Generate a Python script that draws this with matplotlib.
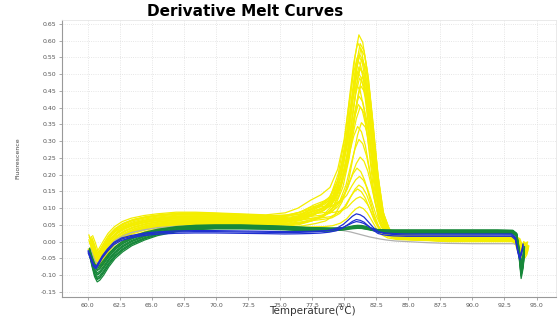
import matplotlib
matplotlib.use("Agg")
import matplotlib.pyplot as plt
import numpy as np

# temperature points (deg C) shared by every melt curve
temps = [60.2, 60.4, 60.6, 60.8, 61.0, 61.3, 61.7, 62.2, 62.8, 63.5,
         64.5, 65.5, 67.0, 68.5, 70.0, 72.0, 74.0, 75.5, 76.5, 77.5,
         78.3, 79.0, 79.6, 80.1, 80.5, 80.8, 81.1, 81.4, 81.7, 82.0,
         82.4, 82.8, 83.3, 84.0, 85.0, 86.5, 88.0, 90.0, 92.0, 93.2,
         93.5, 93.7, 93.85, 94.0, 94.1]

# baseline envelopes (-dF/dT) for each group
yellow_hi = [0.020, 0.000, -0.025, -0.030, -0.020, 0.000, 0.025, 0.045, 0.060, 0.070,
             0.078, 0.083, 0.088, 0.088, 0.086, 0.083, 0.080, 0.080, 0.080, 0.082,
             0.080, 0.075, 0.070, 0.064, 0.058, 0.052, 0.046, 0.040, 0.035, 0.030,
             0.027, 0.024, 0.022, 0.020, 0.020, 0.018, 0.017, 0.017, 0.016, 0.016,
             0.010, -0.010, -0.020, -0.010, 0.000]
yellow_lo = [-0.030, -0.050, -0.070, -0.078, -0.070, -0.050, -0.030, -0.010, 0.005, 0.018,
             0.030, 0.038, 0.044, 0.046, 0.046, 0.045, 0.043, 0.042, 0.042, 0.042,
             0.040, 0.038, 0.035, 0.032, 0.030, 0.027, 0.024, 0.021, 0.018, 0.015,
             0.012, 0.010, 0.008, 0.006, 0.005, 0.003, 0.000, 0.000, 0.000, 0.000,
             -0.010, -0.035, -0.050, -0.040, -0.020]
green_hi = [-0.020, -0.045, -0.065, -0.075, -0.070, -0.055, -0.035, -0.015, 0.002, 0.015,
            0.028, 0.037, 0.045, 0.049, 0.050, 0.050, 0.048, 0.046, 0.044, 0.042,
            0.041, 0.040, 0.039, 0.038, 0.037, 0.037, 0.036, 0.036, 0.036, 0.035,
            0.035, 0.035, 0.035, 0.035, 0.035, 0.035, 0.035, 0.035, 0.035, 0.034,
            0.025, -0.020, -0.060, -0.040, -0.015]
green_lo = [-0.040, -0.075, -0.105, -0.120, -0.115, -0.100, -0.075, -0.050, -0.030, -0.012,
            0.005, 0.018, 0.030, 0.036, 0.038, 0.038, 0.037, 0.035, 0.033, 0.031,
            0.030, 0.029, 0.029, 0.028, 0.028, 0.027, 0.027, 0.027, 0.026, 0.026,
            0.026, 0.025, 0.025, 0.025, 0.025, 0.025, 0.025, 0.025, 0.025, 0.024,
            0.015, -0.050, -0.110, -0.080, -0.040]
blue_base = [-0.030, -0.050, -0.070, -0.077, -0.065, -0.045, -0.025, -0.005, 0.008, 0.015,
             0.022, 0.026, 0.029, 0.030, 0.030, 0.029, 0.028, 0.027, 0.027, 0.027,
             0.027, 0.027, 0.026, 0.026, 0.025, 0.025, 0.025, 0.024, 0.024, 0.023,
             0.023, 0.022, 0.022, 0.021, 0.020, 0.020, 0.020, 0.020, 0.020, 0.020,
             0.010, -0.030, -0.050, -0.030, -0.010]
gray_base = [-0.020, -0.040, -0.060, -0.065, -0.055, -0.035, -0.015, 0.005, 0.018, 0.028,
             0.036, 0.042, 0.046, 0.047, 0.047, 0.046, 0.044, 0.043, 0.042, 0.041,
             0.040, 0.038, 0.035, 0.032, 0.029, 0.026, 0.023, 0.020, 0.017, 0.014,
             0.011, 0.008, 0.005, 0.002, 0.000, -0.003, -0.005, -0.006, -0.006, -0.006,
             -0.010, -0.030, -0.040, -0.030, -0.015]

# normalised melt peak and the low shoulder seen before it
peak_shape = [0, 0, 0, 0, 0, 0, 0, 0, 0, 0,
              0, 0, 0, 0, 0, 0, 0, 0, 0.01, 0.03,
              0.06, 0.12, 0.25, 0.45, 0.70, 0.88, 1.00, 0.97, 0.85, 0.65,
              0.35, 0.14, 0.04, 0.005, 0, 0, 0, 0, 0, 0,
              0, 0, 0, 0, 0]
shoulder_shape = [0, 0, 0, 0, 0, 0, 0, 0, 0, 0,
                  0, 0, 0, 0, 0, 0, 0, 0.2, 0.5, 0.9,
                  1.0, 0.9, 0.7, 0.5, 0.3, 0.15, 0.05, 0, 0, 0,
                  0, 0, 0, 0, 0, 0, 0, 0, 0, 0,
                  0, 0, 0, 0, 0]

# per-sample values
yellow_peaks = [0.58, 0.56, 0.55, 0.54, 0.53, 0.52, 0.51, 0.50, 0.49, 0.48,
                0.47, 0.46, 0.45, 0.44, 0.42, 0.40, 0.38, 0.36, 0.33, 0.30,
                0.27, 0.22, 0.18, 0.15, 0.14, 0.12, 0.10, 0.08]
yellow_levels = [0.6, 0.3, 0.9, 0.5, 0.1, 0.7, 0.4, 1.0, 0.2, 0.8,
                 0.55, 0.35, 0.65, 0.15, 0.95, 0.45, 0.25, 0.75, 0.05, 0.85,
                 0.5, 0.3, 0.7, 0.9, 0.2, 0.6, 0.4, 0.0]
yellow_shifts = [0.05, 0.15, -0.05, 0.2, 0.0, 0.1, 0.25, -0.1, 0.15, 0.05,
                 -0.05, 0.3, 0.1, -0.15, 0.2, 0.05, 0.0, 0.15, 0.25, -0.05,
                 0.05, 0.15, -0.1, 0.1, 0.05, -0.05, 0.15, 0.1]
yellow_shoulders = [0.0, 0.01, 0.0, 0.02, 0.0, 0.0, 0.01, 0.03, 0.0, 0.0,
                    0.02, 0.0, 0.0, 0.04, 0.0, 0.01, 0.0, 0.03, 0.0, 0.02,
                    0.0, 0.035, 0.0, 0.02, 0.01, 0.0, 0.025, 0.0]
green_levels = [0.0, 0.15, 0.3, 0.45, 0.6, 0.75, 0.9, 1.0, 0.2, 0.5, 0.8]
green_peaks = [0.02, 0.015, 0.01, 0.012, 0.008, 0.015, 0.01, 0.005, 0.018, 0.01, 0.006]
blue_peaks = [0.058, 0.045, 0.032]
blue_offsets = [0.0, -0.004, 0.003]

fig = plt.figure(figsize=(5.58, 3.2), dpi=100)
ax = fig.add_axes([0.111, 0.072, 0.885, 0.866])

t = np.array(temps)
peak = np.array(peak_shape)
shoulder = np.array(shoulder_shape)

yhi, ylo = np.array(yellow_hi), np.array(yellow_lo)
for h, lv, sh, sd in zip(yellow_peaks, yellow_levels, yellow_shifts, yellow_shoulders):
    y = ylo + lv * (yhi - ylo) + h * peak + sd * shoulder
    ax.plot(t + sh, y, color="#f4ee00", lw=0.9)

ax.plot(t, gray_base, color="#b0b0b0", lw=0.9)

ghi, glo = np.array(green_hi), np.array(green_lo)
for lv, h in zip(green_levels, green_peaks):
    y = glo + lv * (ghi - glo) + h * peak
    ax.plot(t - 0.05, y, color="#17883a", lw=0.9)

for h, off in zip(blue_peaks, blue_offsets):
    y = np.array(blue_base) + off + h * peak
    ax.plot(t - 0.15, y, color="#1f2fd0", lw=0.9)

ax.set_xlim(58.0, 96.5)
ax.set_ylim(-0.165, 0.662)
ax.set_xticks(np.arange(60, 95.1, 2.5))
ax.set_yticks(np.arange(-0.15, 0.651, 0.05))
ax.xaxis.set_major_formatter(matplotlib.ticker.FormatStrFormatter("%.1f"))
ax.yaxis.set_major_formatter(matplotlib.ticker.FormatStrFormatter("%.2f"))
ax.tick_params(labelsize=4.5, labelcolor="#555555", length=2, width=0.5, color="#888888", pad=2)
ax.grid(color="#dedede", linestyle=":", linewidth=0.6)
ax.set_axisbelow(True)
for s in ["top", "right"]:
    ax.spines[s].set_color("#e6e6e6")
    ax.spines[s].set_linewidth(0.6)
for s in ["left", "bottom"]:
    ax.spines[s].set_color("#999999")
    ax.spines[s].set_linewidth(0.8)

fig.text(245 / 558, 1 - 12 / 320, "Derivative Melt Curves", ha="center", va="center",
         fontsize=11, fontweight="bold")
fig.text(312 / 558, 1 - 311 / 320, "Temperature(°C)", ha="center", va="center",
         fontsize=7.5, color="#333333")
fig.text(18 / 558, 1 - 158 / 320, "Fluorescence", ha="center", va="center",
         rotation=90, fontsize=4.5, color="#444444")

fig.savefig("out.png", dpi=100)
